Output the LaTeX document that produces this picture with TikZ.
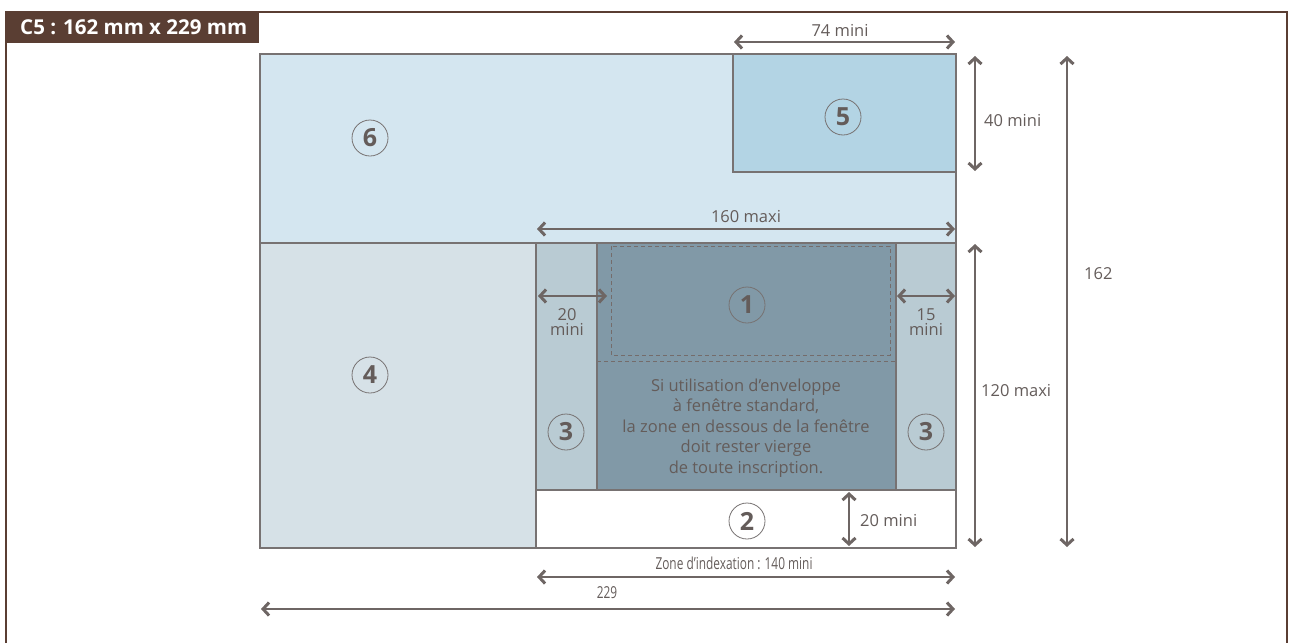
\documentclass[tikz,border=0pt]{standalone}
\usepackage{fontspec}
\setmainfont{Open Sans}
\usetikzlibrary{arrows.meta}
\definecolor{brownc}{HTML}{5A3E33}
\definecolor{linec}{HTML}{777272}
\definecolor{dimc}{HTML}{6E6664}
\definecolor{textc}{HTML}{645C5A}
\definecolor{csix}{HTML}{D4E6F0}
\definecolor{cfive}{HTML}{B3D4E4}
\definecolor{cfour}{HTML}{D6E1E7}
\definecolor{cthree}{HTML}{B9CBD3}
\definecolor{cone}{HTML}{8199A7}
\tikzset{
  num/.style={circle,draw=linec,line width=0.8pt,minimum size=36pt,inner sep=0pt,
    font=\fontsize{25}{25}\selectfont\bfseries,text=textc},
  dim/.style={draw=dimc,line width=2pt,
    arrows={Straight Barb[length=6pt,width=13pt,line width=3pt]-Straight Barb[length=6pt,width=13pt,line width=3pt]}},
  lbl/.style={text=textc,font=\fontsize{16.5}{15}\selectfont,inner sep=0pt,align=center},
  border/.style={draw=linec,line width=1.4pt},
  dsh/.style={draw=textc!90,line width=0.9pt,dash pattern=on 4pt off 3pt}
}
\begin{document}
\begin{tikzpicture}[x=1pt,y=-1pt]
\useasboundingbox (0,0) rectangle (1289,643);
% frame
\draw[brownc,line width=2.5pt] (6,643) -- (6,12) -- (1287,12) -- (1287,643);
\fill[brownc] (5,11) rectangle (259,43);
\node[text=white,font=\fontsize{20.5}{20.5}\selectfont\bfseries,anchor=west,inner sep=0pt] (title) at (20,27.5) {C5 : 162 mm x 229 mm};
% fills
\fill[csix] (260,54) rectangle (956,243);
\fill[cfive] (733,54) rectangle (956,172);
\fill[cfour] (260,243) rectangle (536,548);
\fill[cthree] (536,243) rectangle (956,490);
\fill[cone] (597,243) rectangle (896,490);
\fill[white] (536,490) rectangle (956,548);
% dashed
\draw[dsh] (611,246) rectangle (890,355);
\draw[dsh] (597,361) -- (896,361);
% borders
\draw[border] (733,54) -- (733,172) -- (956,172);
\draw[border] (260,243) -- (956,243);
\draw[border] (536,243) -- (536,548);
\draw[border] (536,490) -- (956,490);
\draw[border] (597,243) -- (597,490);
\draw[border] (896,243) -- (896,490);
\draw[border] (260,54) rectangle (956,548);
% numbers
\node[num] (n6) at (370,138) {6};
\node[num] (n5) at (843,117) {5};
\node[num] (n1) at (747,305) {1};
\node[num] (n4) at (370,375) {4};
\node[num] (n3a) at (566,432) {3};
\node[num] (n3b) at (926,432) {3};
\node[num] (n2) at (747,521) {2};
% text in zone 1
\node[lbl,font=\fontsize{16.5}{20.6}\selectfont] (note) at (746,428) {Si utilisation d’enveloppe\\à fenêtre standard,\\la zone en dessous de la fenêtre\\doit rester vierge\\de toute inscription.};
% dimension coordinates
\coordinate (a74l) at (734,42);  \coordinate (a74r) at (955,42);
\coordinate (a40t) at (975,56);  \coordinate (a40b) at (975,171);
\coordinate (a162t) at (1067,56); \coordinate (a162b) at (1067,547);
\coordinate (a120t) at (975,244); \coordinate (a120b) at (975,547);
\coordinate (a160l) at (537,229); \coordinate (a160r) at (955,229);
\coordinate (a20l) at (538,296); \coordinate (a20r) at (607,296);
\coordinate (a15l) at (897,296); \coordinate (a15r) at (955,296);
\coordinate (a2t) at (849,492); \coordinate (a2b) at (849,546);
\coordinate (aixl) at (537,577); \coordinate (aixr) at (955,577);
\coordinate (a229l) at (261,609); \coordinate (a229r) at (955,609);
\draw[dim] (a74l) -- (a74r);
\draw[dim] (a40t) -- (a40b);
\draw[dim] (a162t) -- (a162b);
\draw[dim] (a120t) -- (a120b);
\draw[dim] (a160l) -- (a160r);
\draw[dim] (a20l) -- (a20r);
\draw[dim] (a15l) -- (a15r);
\draw[dim] (a2t) -- (a2b);
\draw[dim] (aixl) -- (aixr);
\draw[dim] (a229l) -- (a229r);
% labels
\node[lbl] (l74) at (840,30) {74 mini};
\node[lbl,anchor=west] (l40) at (984,121) {40 mini};
\node[lbl,anchor=west] (l162) at (1084,274) {162};
\node[lbl,anchor=west] (l120) at (981,391) {120 maxi};
\node[lbl] (l160) at (746,217) {160 maxi};
\node[lbl] (l20) at (567,322) {20\\mini};
\node[lbl] (l15) at (926,322) {15\\mini};
\node[lbl,anchor=west] (l2) at (860,521) {20 mini};
\node[lbl] (lix) at (734,563) {\scalebox{0.72}[1]{Zone d’indexation : 140 mini}};
\node[lbl] (l229) at (607,593) {\scalebox{0.72}[1]{229}};
\end{tikzpicture}
\end{document}
